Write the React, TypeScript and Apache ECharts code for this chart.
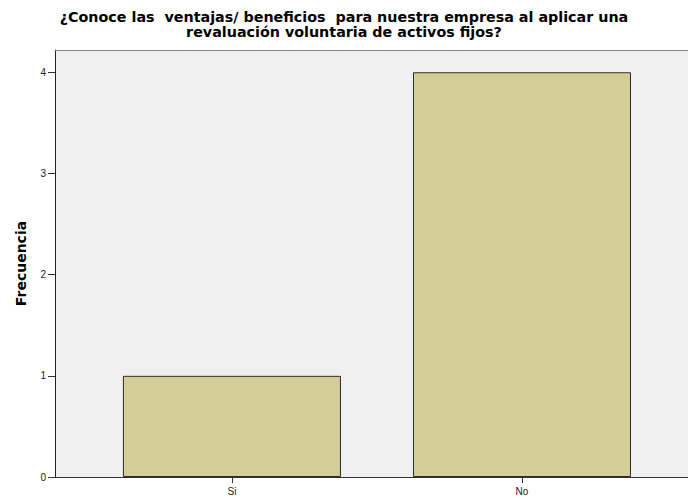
import React, { useEffect, useRef } from "react";
import * as echarts from "echarts";

const titleLines = [
  "¿Conoce las  ventajas/ beneficios  para nuestra empresa al aplicar una",
  "revaluación voluntaria de activos fijos?",
];
const categories = ["Si", "No"];
const values = [1, 4];
const yTicks = [0, 1, 2, 3, 4];
const yAxisName = "Frecuencia";

export default function App() {
  const ref = useRef<HTMLDivElement>(null);
  useEffect(() => {
    if (!ref.current) return;
    const chart = echarts.init(ref.current, null, { renderer: "svg" });
    const positions = categories.map((_, i) => i);
    chart.setOption({
      animation: false,
      backgroundColor: "#ffffff",
      title: {
        text: titleLines.join("\n"),
        left: "center",
        top: 4,
        textStyle: {
          fontFamily: "DejaVu Sans, sans-serif",
          fontSize: 14.3,
          fontWeight: "bold",
          color: "#000",
          lineHeight: 15,
        },
      },
      grid: {
        left: 55,
        top: 50,
        right: 0,
        bottom: 23,
        show: true,
        backgroundColor: "#f0f0f0",
        borderWidth: 0,
      },
      xAxis: [
        {
          type: "value",
          min: -0.61,
          max: 1.5724,
          splitLine: { show: false },
          axisLine: { show: true, lineStyle: { color: "#333", width: 1 } },
          axisTick: {
            show: true,
            customValues: positions,
            length: 6,
            lineStyle: { color: "#333" },
          },
          axisLabel: {
            customValues: positions,
            formatter: (v: number) => categories[Math.round(v)] ?? "",
            fontFamily: "Liberation Sans, Arial, sans-serif",
            fontSize: 10,
            color: "#222",
            margin: 9,
          },
        },
        {
          type: "value",
          position: "top",
          min: -0.61,
          max: 1.5724,
          splitLine: { show: false },
          axisLine: { show: true, lineStyle: { color: "#8a8a8a", width: 1 } },
          axisTick: { show: false },
          axisLabel: { show: false },
        },
      ],
      yAxis: {
        type: "value",
        min: 0,
        max: 4.22,
        interval: 1,
        splitLine: { show: false },
        axisLine: { show: true, onZero: false, lineStyle: { color: "#222", width: 1 } },
        axisTick: { show: true, length: 7, lineStyle: { color: "#333" }, customValues: yTicks },
        axisLabel: {
          customValues: yTicks,
          fontFamily: "Liberation Sans, Arial, sans-serif",
          fontSize: 10,
          color: "#222",
          margin: 9,
        },
        name: yAxisName,
        nameLocation: "middle",
        nameGap: 27,
        nameTextStyle: {
          fontFamily: "DejaVu Sans, sans-serif",
          fontSize: 14,
          fontWeight: "bold",
          color: "#000",
        },
      },
      series: [
        {
          type: "bar",
          xAxisIndex: 0,
          barWidth: 218,
          data: categories.map((_, i) => [i, values[i]]),
          itemStyle: { color: "#d3ce97", borderColor: "#2b2b2b", borderWidth: 1 },
        },
      ],
    });
    return () => chart.dispose();
  }, []);
  return (
    <div
      ref={ref}
      style={{ position: "absolute", left: 0, top: 0, width: 688, height: 500 }}
    />
  );
}
